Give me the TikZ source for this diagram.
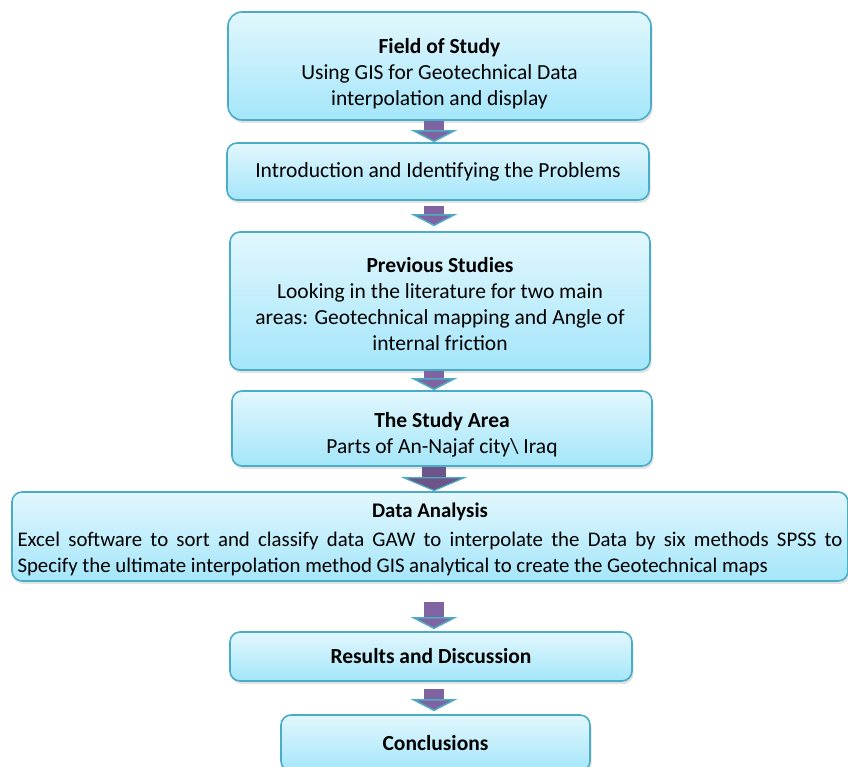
\documentclass[tikz,border=0pt]{standalone}
\usepackage{fontspec}
\setmainfont{Carlito}
\usetikzlibrary{arrows.meta,positioning,shadows}

\definecolor{boxline}{HTML}{4BACC6}
\definecolor{boxtop}{HTML}{E2F7FD}
\definecolor{boxbot}{HTML}{A4E6FA}
\definecolor{arrowfill}{HTML}{8064A2}
\definecolor{arrowrim}{HTML}{4BACC6}

% heading line with a strut that drops the text block a little
\newcommand{\stagehead}[2]{\rule{0pt}{#1}\textbf{#2}}

\begin{document}
\begin{tikzpicture}[
x=1pt, y=1pt,
node distance=21pt,
stage/.style={draw=boxline, line width=1.6pt, rounded corners=10pt, top color=boxtop, bottom color=boxbot,
  align=center, font=\fontsize{21.5}{26}\selectfont, inner xsep=5.5pt,
  drop shadow={opacity=0.22, shadow xshift=1.5pt, shadow yshift=-3pt}},
flow/.style={line width=20pt, draw=arrowfill,
  -{Triangle[length=12pt, width=46pt, fill=arrowfill, color=arrowrim, line width=1.5pt]}},
wideflow/.style={line width=24pt, draw=arrowfill!85!black,
  -{Triangle[length=14pt, width=66pt, fill=arrowfill!85!black, color=arrowrim, line width=1.2pt]}}
]
\useasboundingbox (0,0) rectangle (848,-767);

\node[stage, minimum width=423pt, minimum height=108pt, rounded corners=14pt] (field) at (439.5,-66)
  {\stagehead{31pt}{Field of Study}\\Using GIS for Geotechnical Data\\interpolation and display};
\node[stage, minimum width=422pt, minimum height=57pt, below=21.4pt of field, xshift=-1.5pt] (intro)
  {Introduction and Identifying the Problems};
\node[stage, minimum width=420pt, minimum height=138pt, below=30.4pt of intro, xshift=2pt] (prev)
  {\stagehead{21pt}{Previous Studies}\\Looking in the literature for two main\\areas: Geotechnical mapping and Angle of\\internal friction};
\node[stage, minimum width=420pt, minimum height=75pt, below=19.4pt of prev, xshift=2pt] (area)
  {\stagehead{27pt}{The Study Area}\\Parts of An-Najaf city\textbackslash{} Iraq};
\node[stage, minimum width=836pt, minimum height=89pt, text width=825pt, align=justify,
  font=\fontsize{20.8}{25.5}\selectfont, below=24.4pt of area, xshift=-12pt] (data)
  {{\centering\stagehead{20pt}{Data Analysis}\par}\vspace{4pt}
   Excel software to sort and classify data GAW to interpolate the Data by six methods SPSS to\linebreak
   Specify the ultimate interpolation method GIS analytical to create the Geotechnical maps};
\node[stage, minimum width=402pt, minimum height=49pt, below=49.4pt of data, xshift=1pt] (results)
  {\textbf{Results and Discussion}};
\node[stage, minimum width=309pt, minimum height=56pt, below=32.4pt of results, xshift=4.5pt] (concl)
  {\textbf{Conclusions}};

% block arrows run down one axis
\coordinate (ax) at (434,0);
\draw[flow] (field.south -| ax) -- (intro.north -| ax);
\draw[flow, shorten <=5pt, shorten >=5pt] (intro.south -| ax) -- (prev.north -| ax);
\draw[flow] (prev.south -| ax) -- (area.north -| ax);
\draw[wideflow] (area.south -| ax) -- (data.north -| ax);
\draw[flow, shorten <=20pt, shorten >=2pt] (data.south -| ax) -- (results.north -| ax);
\draw[flow, shorten <=7pt, shorten >=3pt] (results.south -| ax) -- (concl.north -| ax);
\end{tikzpicture}
\end{document}
